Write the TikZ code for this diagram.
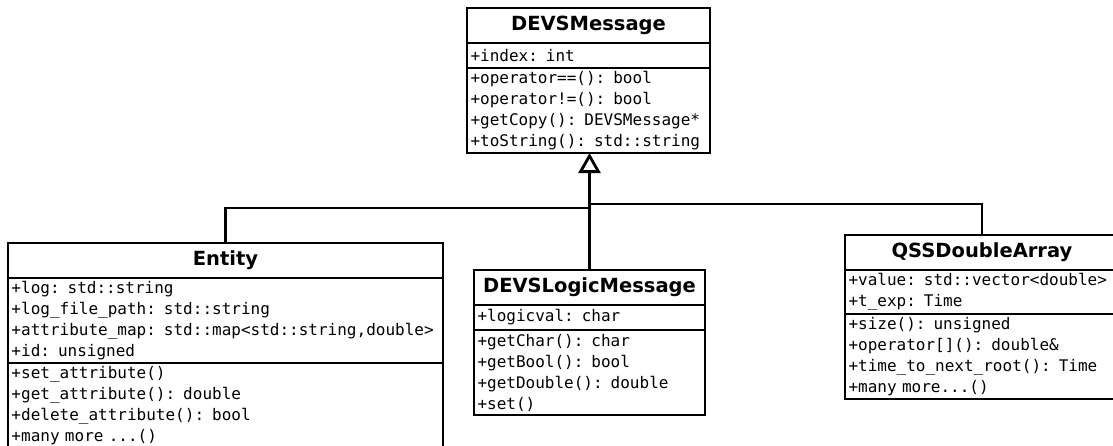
\documentclass[tikz,border=0pt]{standalone}
\usepackage{fontspec}
\setmainfont{DejaVu Sans}
\newfontfamily\umlmono[WordSpace={1,0,0}]{DejaVu Sans Mono}
\usetikzlibrary{arrows.meta}

\tikzset{
  umlbox/.style={draw, line width=2.8pt, outer sep=0pt, anchor=north west},
  ttl/.style={umlbox, font=\bfseries\fontsize{19.5}{23}\selectfont, minimum height=35pt},
  cmp/.style={umlbox, font=\umlmono\fontsize{16}{21}\selectfont, align=left,
              inner xsep=3.5pt, inner ysep=0pt},
  edge/.style={line width=2.8pt},
  inherit/.style={edge, -{Triangle[open, length=20pt, width=22pt]}}
}

\begin{document}
\begin{tikzpicture}[x=1pt, y=-1pt]
\useasboundingbox (0,0) rectangle (1113,445);

% DEVSMessage (base class)
\node[ttl, minimum width=243pt] (dm-t) at (467,8) {DEVSMessage};
\node[cmp, text width=236pt, minimum height=25pt] (dm-a) at (dm-t.south west) {+index: int};
\node[cmp, text width=236pt, minimum height=85pt] (dm-m) at (dm-a.south west)
  {+operator==(): bool\\+operator!=(): bool\\+getCopy(): DEVSMessage*\\+toString(): std::string};

% Entity
\node[ttl, minimum width=435pt] (en-t) at (8,243) {Entity};
\node[cmp, text width=428pt, minimum height=85pt] (en-a) at (en-t.south west)
  {+log: std::string\\+log\_file\_path: std::string\\+attribute\_map: std::map<std::string,double>\\+id: unsigned};
\node[cmp, text width=428pt, minimum height=85pt] (en-m) at (en-a.south west)
  {+set\_attribute()\\+get\_attribute(): double\\+delete\_attribute(): bool\\+many more ...()};

% DEVSLogicMessage
\node[ttl, minimum width=231pt] (dl-t) at (474,270) {DEVSLogicMessage};
\node[cmp, text width=224pt, minimum height=25pt] (dl-a) at (dl-t.south west) {+logicval: char};
\node[cmp, text width=224pt, minimum height=85pt] (dl-m) at (dl-a.south west)
  {+getChar(): char\\+getBool(): bool\\+getDouble(): double\\+set()};

% QSSDoubleArray
\node[ttl, minimum width=274pt] (qs-t) at (845,235) {QSSDoubleArray};
\node[cmp, text width=267pt, minimum height=44pt] (qs-a) at (qs-t.south west)
  {+value: std::vector<double>\\+t\_exp: Time};
\node[cmp, text width=267pt, minimum height=85pt] (qs-m) at (qs-a.south west)
  {+size(): unsigned\\+operator[](): double\&\\+time\_to\_next\_root(): Time\\+many more...()};

% generalization connectors
\coordinate (jl) at (588,208);
\coordinate (jr) at (589,204);
\draw[edge] (en-t.north) |- (jl);
\draw[edge] (qs-t.north) |- (jr);
\draw[inherit] (dl-t.north) -- (dl-t.north |- dm-m.south);
\end{tikzpicture}
\end{document}
